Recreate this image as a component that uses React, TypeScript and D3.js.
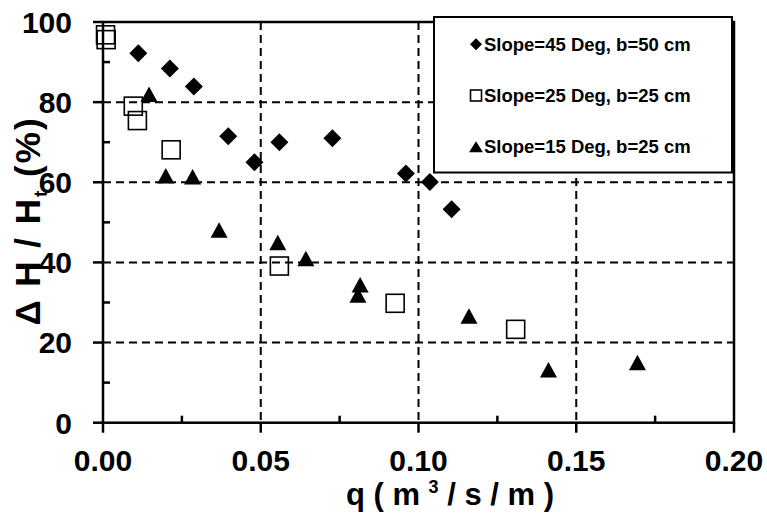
import React from "react";
import * as d3 from "d3";

// discharge q (m3/s/m) and relative head loss (%) per series
const slope45Q = [0.0112, 0.0212, 0.0288, 0.0397, 0.048, 0.0559, 0.0727, 0.096, 0.1036, 0.1105];
const slope45V = [92.2, 88.4, 83.9, 71.5, 65.0, 70.0, 71.0, 62.2, 60.1, 53.3];

const slope25Q = [0.0008, 0.001, 0.0096, 0.0109, 0.0216, 0.0559, 0.0926, 0.1308];
const slope25V = [96.8, 95.6, 79.0, 75.4, 68.1, 39.1, 29.8, 23.3];

const slope15Q = [0.0146, 0.0199, 0.0284, 0.0368, 0.0554, 0.0643, 0.0815, 0.0808, 0.116, 0.1412, 0.1694];
const slope15V = [82.0, 61.6, 61.4, 48.1, 45.0, 41.0, 34.4, 31.9, 26.6, 13.2, 15.0];

const legendLabels = ["Slope=45 Deg, b=50 cm", "Slope=25 Deg, b=25 cm", "Slope=15 Deg, b=25 cm"];
const xTickValues = [0, 0.05, 0.1, 0.15, 0.2];
const yTickValues = [0, 20, 40, 60, 80, 100];

const font = "'Liberation Sans', Arial, sans-serif";

const width = 767, height = 516;
const left = 103, right = 734, top = 22, bottom = 422.7;

const x = d3.scaleLinear().domain([0, 0.2]).range([left, right]);
const y = d3.scaleLinear().domain([0, 100]).range([bottom, top]);

const zip = (a: number[], b: number[]) => a.map((d, i) => [d, b[i]]);

const Diamond = ({ cx, cy, r }: { cx: number; cy: number; r: number }) => (
  <path d={`M${cx},${cy - r}L${cx + r},${cy}L${cx},${cy + r}L${cx - r},${cy}Z`} fill="#000" />
);
const Square = ({ cx, cy, s }: { cx: number; cy: number; s: number }) => (
  <rect x={cx - s / 2} y={cy - s / 2} width={s} height={s} fill="none" stroke="#000" strokeWidth={1.6} />
);
const Triangle = ({ cx, cy, w, h }: { cx: number; cy: number; w: number; h: number }) => (
  <path d={`M${cx},${cy - h / 2}L${cx + w / 2},${cy + h / 2}L${cx - w / 2},${cy + h / 2}Z`} fill="#000" />
);

const App = () => {
  const minorX = d3.range(0.025, 0.2, 0.05);
  const minorY = d3.range(10, 100, 20);
  const gridX = xTickValues.filter(d => d > 0 && d < 0.2);
  const gridY = yTickValues.filter(d => d > 0 && d < 100);

  return (
    <svg width={width} height={height} style={{ position: "absolute", left: 0, top: 0, background: "#fff" }}
      fontFamily={font} fontWeight="bold">
      {/* grid */}
      {gridX.map(d => (
        <line key={"gx" + d} x1={x(d)} x2={x(d)} y1={top} y2={bottom} stroke="#000" strokeWidth={2} strokeDasharray="8,5" />
      ))}
      {gridY.map(d => (
        <line key={"gy" + d} x1={left} x2={right} y1={y(d)} y2={y(d)} stroke="#000" strokeWidth={2} strokeDasharray="8,5" />
      ))}

      {/* frame */}
      <rect x={left} y={top} width={right - left} height={bottom - top} fill="none" stroke="#000" strokeWidth={2.5} />

      {/* ticks */}
      {xTickValues.map(d => (
        <line key={"xt" + d} x1={x(d)} x2={x(d)} y1={bottom} y2={bottom + 10} stroke="#000" strokeWidth={2.5} />
      ))}
      {minorX.map(d => (
        <line key={"xm" + d} x1={x(d)} x2={x(d)} y1={bottom} y2={bottom - 7} stroke="#000" strokeWidth={2.5} />
      ))}
      {yTickValues.map(d => (
        <line key={"yt" + d} x1={left - 10} x2={left} y1={y(d)} y2={y(d)} stroke="#000" strokeWidth={2.5} />
      ))}
      {minorY.map(d => (
        <line key={"ym" + d} x1={left} x2={left + 7} y1={y(d)} y2={y(d)} stroke="#000" strokeWidth={2.5} />
      ))}

      {/* tick labels */}
      {xTickValues.map(d => (
        <text key={"xl" + d} x={x(d)} y={471} textAnchor="middle" fontSize={30}>{d3.format(".2f")(d)}</text>
      ))}
      {yTickValues.map(d => (
        <text key={"yl" + d} x={72} y={y(d)} dy="0.36em" textAnchor="end" fontSize={30}>{d}</text>
      ))}

      {/* axis titles */}
      <text x={450} y={505} textAnchor="middle" fontSize={31}>
        q ( m <tspan fontSize={18} dy={-12}>3</tspan><tspan dy={12}> / s / m )</tspan>
      </text>
      <text transform="translate(40,221) rotate(-90)" textAnchor="middle" fontSize={35} letterSpacing={2}>
        Δ H / H<tspan fontSize={19} dy={7}>t</tspan><tspan dy={-7}> (%)</tspan>
      </text>

      {/* data */}
      {zip(slope15Q, slope15V).map(([q, v], i) => (
        <Triangle key={"t" + i} cx={x(q)} cy={y(v)} w={17} h={15.5} />
      ))}
      {zip(slope45Q, slope45V).map(([q, v], i) => (
        <Diamond key={"d" + i} cx={x(q)} cy={y(v)} r={9} />
      ))}
      {zip(slope25Q, slope25V).map(([q, v], i) => (
        <Square key={"s" + i} cx={x(q)} cy={y(v)} s={18} />
      ))}

      {/* legend */}
      <rect x={434} y={17} width={298} height={155.5} fill="#fff" stroke="#000" strokeWidth={2} />
      {legendLabels.map((label, i) => {
        const cy = 44.3 + i * 51.2;
        return (
          <g key={label}>
            {i === 0 && <Diamond cx={476} cy={cy} r={6} />}
            {i === 1 && <Square cx={476} cy={cy} s={11} />}
            {i === 2 && <Triangle cx={476} cy={cy} w={14} h={11} />}
            <text x={484} y={cy} dy="0.36em" fontSize={18.5}>{label}</text>
          </g>
        );
      })}
    </svg>
  );
};

export default App;
